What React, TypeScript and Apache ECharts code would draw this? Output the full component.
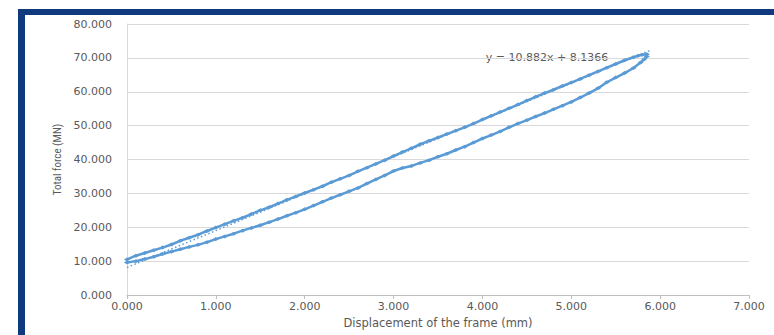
import React, { useEffect, useRef } from "react";
import * as echarts from "echarts";

// Loading branch (displacement mm, force MN)
const upperX = [0.0, 0.1, 0.2, 0.3, 0.4, 0.5, 0.6, 0.7, 0.8, 0.9, 1.0, 1.1, 1.2, 1.3, 1.4, 1.5, 1.6, 1.7, 1.8, 1.9, 2.0, 2.1, 2.2, 2.3, 2.4, 2.5, 2.6, 2.7, 2.8, 2.9, 3.0, 3.1, 3.2, 3.3, 3.4, 3.5, 3.6, 3.7, 3.8, 3.9, 4.0, 4.1, 4.2, 4.3, 4.4, 4.5, 4.6, 4.7, 4.8, 4.9, 5.0, 5.1, 5.2, 5.3, 5.4, 5.5, 5.6, 5.7, 5.75, 5.8, 5.85];
const upperY = [10.5, 11.6, 12.4, 13.2, 14.0, 14.9, 16.0, 16.9, 17.8, 18.9, 19.9, 20.9, 21.9, 22.8, 23.9, 25.0, 25.9, 27.0, 28.1, 29.1, 30.1, 31.1, 32.1, 33.3, 34.3, 35.3, 36.5, 37.6, 38.7, 39.8, 41.0, 42.2, 43.3, 44.5, 45.5, 46.5, 47.5, 48.5, 49.5, 50.6, 51.8, 52.9, 54.0, 55.1, 56.2, 57.4, 58.5, 59.6, 60.6, 61.7, 62.7, 63.8, 64.9, 66.0, 67.1, 68.2, 69.3, 70.2, 70.6, 70.9, 71.1];

// Unloading branch
const lowerX = [5.85, 5.82, 5.78, 5.7, 5.6, 5.5, 5.4, 5.3, 5.2, 5.1, 5.0, 4.9, 4.8, 4.7, 4.6, 4.5, 4.4, 4.3, 4.2, 4.1, 4.0, 3.9, 3.8, 3.7, 3.6, 3.5, 3.4, 3.3, 3.2, 3.1, 3.0, 2.9, 2.8, 2.7, 2.6, 2.5, 2.4, 2.3, 2.2, 2.1, 2.0, 1.9, 1.8, 1.7, 1.6, 1.5, 1.4, 1.3, 1.2, 1.1, 1.0, 0.9, 0.8, 0.7, 0.6, 0.5, 0.4, 0.3, 0.2, 0.1, 0.0];
const lowerY = [70.4, 69.6, 68.6, 67.0, 65.5, 64.2, 62.8, 61.0, 59.6, 58.3, 57.0, 55.9, 54.8, 53.7, 52.7, 51.6, 50.6, 49.5, 48.3, 47.2, 46.2, 45.0, 43.8, 42.8, 41.7, 40.8, 39.8, 39.0, 38.1, 37.5, 36.6, 35.3, 34.1, 32.9, 31.6, 30.6, 29.6, 28.6, 27.5, 26.4, 25.3, 24.3, 23.4, 22.4, 21.5, 20.6, 19.8, 19.0, 18.1, 17.3, 16.5, 15.6, 14.8, 14.2, 13.5, 12.8, 12.1, 11.3, 10.6, 10.0, 9.6];

// Linear trendline reported on the chart
const trendSlope = 10.882;
const trendIntercept = 8.1366;
const trendRange = [0, 5.9];
const trendLabel = "y = 10.882x + 8.1366";

const xTicks = [0, 1, 2, 3, 4, 5, 6, 7];
const yTicks = [0, 10, 20, 30, 40, 50, 60, 70, 80];

const xName = "Displacement of the frame (mm)";
const yName = "Total force (MN)";

export default function App() {
  const ref = useRef<HTMLDivElement>(null);
  useEffect(() => {
    if (!ref.current) return;
    const chart = echarts.init(ref.current, null, { renderer: "svg" });
    const loop: number[][] = [];
    upperX.forEach((x, i) => loop.push([x, upperY[i]]));
    lowerX.forEach((x, i) => loop.push([x, lowerY[i]]));
    const trend = trendRange.map((x) => [x, trendSlope * x + trendIntercept]);
    const gray = "#595959";
    chart.setOption({
      animation: false,
      backgroundColor: "#ffffff",
      grid: { left: 127, right: 25, top: 24, bottom: 40 },
      xAxis: {
        type: "value",
        min: xTicks[0],
        max: xTicks[xTicks.length - 1],
        interval: 1,
        name: xName,
        nameLocation: "middle",
        nameGap: 21,
        nameTextStyle: { color: gray, fontSize: 11.5, fontFamily: "DejaVu Sans" },
        axisLine: { show: true, lineStyle: { color: "#bfbfbf", width: 1 } },
        axisTick: { show: true, length: 4, lineStyle: { color: "#bfbfbf" } },
        axisLabel: {
          color: gray,
          fontSize: 11,
          fontFamily: "DejaVu Sans",
          margin: 6,
          formatter: (v: number) => v.toFixed(3),
        },
        splitLine: { show: false },
      },
      yAxis: {
        type: "value",
        min: yTicks[0],
        max: yTicks[yTicks.length - 1],
        interval: 10,
        name: yName,
        nameLocation: "middle",
        nameGap: 61,
        nameRotate: 90,
        nameTextStyle: { color: gray, fontSize: 11, fontFamily: "Liberation Sans Narrow, Roboto Condensed, Liberation Sans" },
        axisLine: { show: true, lineStyle: { color: "#d9d9d9", width: 1 } },
        axisTick: { show: false },
        axisLabel: {
          color: gray,
          fontSize: 11,
          fontFamily: "DejaVu Sans",
          margin: 15,
          formatter: (v: number) => v.toFixed(3),
        },
        splitLine: { show: true, lineStyle: { color: "#d9d9d9", width: 1 } },
      },
      series: [
        {
          type: "line",
          data: loop,
          showSymbol: true,
          symbol: "diamond",
          symbolSize: [6, 4],
          itemStyle: { color: "#5b9bd5" },
          lineStyle: { color: "#5b9bd5", width: 2.5 },
          z: 3,
        },
        {
          type: "line",
          data: trend,
          showSymbol: false,
          symbol: "none",
          lineStyle: { color: "#5b9bd5", width: 1.5, type: [1.5, 2.5] },
          z: 4,
        },
      ],
      graphic: [
        { type: "rect", shape: { x: 18, y: 9, width: 756, height: 6 }, style: { fill: "#103a7e" } },
        { type: "rect", shape: { x: 18, y: 9, width: 7, height: 326 }, style: { fill: "#103a7e" } },
        {
          type: "text",
          x: 547,
          y: 57,
          style: {
            text: trendLabel,
            fill: gray,
            fontSize: 11,
            fontFamily: "DejaVu Sans",
            textAlign: "center",
            textVerticalAlign: "middle",
          },
        },
      ],
    });
    return () => chart.dispose();
  }, []);
  return (
    <div
      ref={ref}
      style={{ position: "absolute", left: 0, top: 0, width: 774, height: 335 }}
    />
  );
}
